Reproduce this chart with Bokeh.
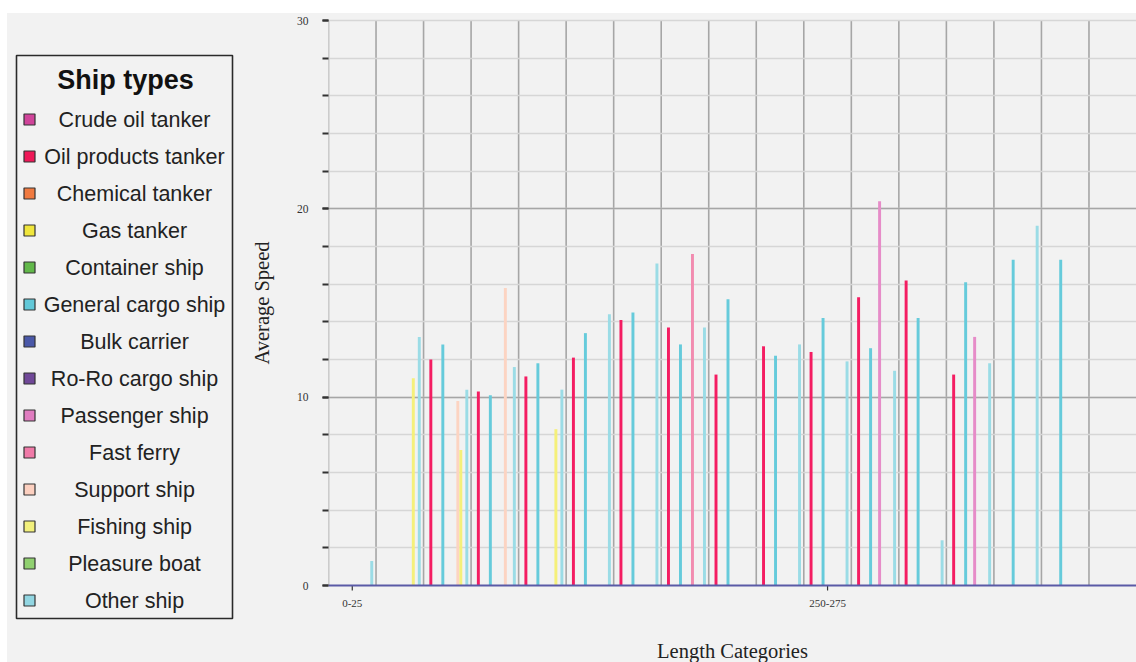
from math import pi
from bokeh.plotting import figure
from bokeh.models import Range1d, FixedTicker, ColumnDataSource, Spacer, Span
from bokeh.layouts import row, column
from bokeh.core.properties import value
from bokeh.embed import file_html
from bokeh.resources import INLINE

# ---------------- data ----------------
categories = ["0-25", "25-50", "50-75", "75-100", "100-125", "125-150", "150-175",
              "175-200", "200-225", "225-250", "250-275", "275-300", "300-325",
              "325-350", "350-375", "375-400", "400-425"]
labelled_categories = ["0-25", "250-275"]

ship_types = ["Crude oil tanker", "Oil products tanker", "Chemical tanker", "Gas tanker",
              "Container ship", "General cargo ship", "Bulk carrier", "Ro-Ro cargo ship",
              "Passenger ship", "Fast ferry", "Support ship", "Fishing ship",
              "Pleasure boat", "Other ship"]
legend_colors = ["#d0449a", "#ee1858", "#f07a40", "#f0e63c", "#62b84a", "#62c8d8", "#4a58a8",
                 "#704898", "#e07cc0", "#f07aa8", "#fcd0c0", "#f2f07c", "#90d070", "#92d6e2"]
bar_colors = ["#d0449a", "#f41d62", "#f07a40", "#f0e63c", "#62b84a", "#66cbdb", "#4a58a8",
              "#704898", "#e68cc8", "#f28cb0", "#fcd4c2", "#f5f07a", "#90d070", "#9bdce6"]

crude_oil_tanker    = [0, 0, 0, 0, 0, 0, 0, 0, 0, 0, 0, 0, 0, 0, 0, 0, 0]
oil_products_tanker = [0, 0, 12.0, 10.3, 11.1, 12.1, 14.1, 13.7, 11.2, 12.7, 12.4, 15.3, 16.2, 11.2, 0, 0, 0]
chemical_tanker     = [0, 0, 0, 0, 0, 0, 0, 0, 0, 0, 0, 0, 0, 0, 0, 0, 0]
gas_tanker          = [0, 0, 0, 0, 0, 0, 0, 0, 0, 0, 0, 0, 0, 0, 0, 0, 0]
container_ship      = [0, 0, 0, 0, 0, 0, 0, 0, 0, 0, 0, 0, 0, 0, 0, 0, 0]
general_cargo_ship  = [0, 0, 12.8, 10.1, 11.8, 13.4, 14.5, 12.8, 15.2, 12.2, 14.2, 12.6, 14.2, 16.1, 17.3, 17.3, 0]
bulk_carrier        = [0, 0, 0, 0, 0, 0, 0, 0, 0, 0, 0, 0, 0, 0, 0, 0, 0]
ro_ro_cargo_ship    = [0, 0, 0, 0, 0, 0, 0, 0, 0, 0, 0, 0, 0, 0, 0, 0, 0]
passenger_ship      = [0, 0, 0, 0, 0, 0, 0, 0, 0, 0, 0, 20.4, 0, 13.2, 0, 0, 0]
fast_ferry          = [0, 0, 0, 0, 0, 0, 0, 17.6, 0, 0, 0, 0, 0, 0, 0, 0, 0]
support_ship        = [0, 0, 9.8, 15.8, 0, 0, 0, 0, 0, 0, 0, 0, 0, 0, 0, 0, 0]
fishing_ship        = [0, 11.0, 7.2, 0, 8.3, 0, 0, 0, 0, 0, 0, 0, 0, 0, 0, 0, 0]
pleasure_boat       = [0, 0, 0, 0, 0, 0, 0, 0, 0, 0, 0, 0, 0, 0, 0, 0, 0]
other_ship          = [1.3, 13.2, 10.4, 11.6, 10.4, 14.4, 17.1, 13.7, 0, 12.8, 11.9, 11.4, 2.4, 11.8, 19.1, 0, 0]

series = [crude_oil_tanker, oil_products_tanker, chemical_tanker, gas_tanker, container_ship,
          general_cargo_ship, bulk_carrier, ro_ro_cargo_ship, passenger_ship, fast_ferry,
          support_ship, fishing_ship, pleasure_boat, other_ship]

y_ticks = [0, 10, 20, 30]
y_minor = [0, 2, 4, 6, 8, 10, 12, 14, 16, 18, 20, 22, 24, 26, 28, 30]

# ---------------- style / layout ----------------
BG = "#f2f2f2"
SLOT = 0.0631      # width of one ship-type slot inside a category (category units)
BAR_W = 0.062
TOP_GAP, LEFT_GAP = 13, 7            # white page strip above / left of the chart
FIG_H = 662 - TOP_GAP
PAD_TOP, PAD_BOTTOM = 7, 77          # px above the 30 line / below the 0 line
Y_MAX = y_ticks[-1]
PPU = (FIG_H - PAD_TOP - PAD_BOTTOM) / Y_MAX   # pixels per speed unit
Y_START = -PAD_BOTTOM / PPU
Y_END = Y_MAX + PAD_TOP / PPU
SIDE_W = 283                          # side panel: legend + y-axis title

# ---------------- main chart ----------------
n_cat = len(categories)
p = figure(width=1136 - LEFT_GAP - SIDE_W, height=FIG_H, output_backend="svg",
           toolbar_location=None,
           x_range=Range1d(0, n_cat), y_range=Range1d(Y_START, Y_END),
           x_axis_location=None,
           min_border_left=38, min_border_right=0, min_border_top=0, min_border_bottom=0)
p.background_fill_color = BG
p.border_fill_color = BG
p.outline_line_color = None
p.xgrid.visible = False

# vertical grid at category boundaries (only over the 0..30 band)
bounds_x = list(range(0, n_cat))
p.segment(x0=bounds_x, x1=bounds_x, y0=[0] * n_cat, y1=[Y_MAX] * n_cat,
          line_color="#a6a6a6", line_width=1.6, level="underlay")

# horizontal grid
p.ygrid.ticker = FixedTicker(ticks=[10, 20], minor_ticks=y_minor[1:])
p.ygrid.grid_line_color = "#a6a6a6"
p.ygrid.grid_line_width = 1.6
p.ygrid.minor_grid_line_color = "#d6d6d6"
p.ygrid.minor_grid_line_width = 1.6
p.ygrid.level = "underlay"
p.ygrid.bounds = (0, Y_MAX)

# bars
n_types = len(ship_types)
for k, (vals, col) in enumerate(zip(series, bar_colors)):
    xs, tops = [], []
    for i, v in enumerate(vals):
        if v > 0:
            xs.append(i + 0.5 + (k - (n_types - 1) / 2) * SLOT)
            tops.append(v)
    if xs:
        src = ColumnDataSource(dict(x=xs, top=tops))
        p.vbar(x="x", top="top", bottom=0, width=BAR_W, source=src,
               fill_color=col, line_color=None)

# x baseline, ticks and labels
p.add_layout(Span(location=0, dimension="width", line_color="#5a5aa6", line_width=2))
xt = [i + 0.5 for i, c in enumerate(categories) if c in labelled_categories]
xl = [c for c in categories if c in labelled_categories]
p.segment(x0=xt, x1=xt, y0=[0] * len(xt), y1=[-5 / PPU] * len(xt),
          line_color="#333333", line_width=1.2)
p.text(x=xt, y=[-14 / PPU] * len(xt), text=xl, text_align="center", text_baseline="top",
       text_font=value("Liberation Serif"), text_font_size="11px", text_color="#333333")
p.text(x=[n_cat / 2], y=[-65 / PPU], text=["Length Categories"], text_align="center",
       text_baseline="middle", text_font=value("Liberation Serif"),
       text_font_size="20.5px", text_color="#222222")

# y axis (ticks + numbers; its title is drawn in the side panel)
p.yaxis.bounds = (0, Y_MAX)
p.yaxis.ticker = FixedTicker(ticks=y_ticks, minor_ticks=y_minor)
p.yaxis.axis_line_color = None
p.yaxis.major_tick_out = 6
p.yaxis.major_tick_in = 0
p.yaxis.minor_tick_out = 6
p.yaxis.minor_tick_in = 0
p.yaxis.major_tick_line_color = "#333333"
p.yaxis.minor_tick_line_color = "#333333"
p.yaxis.major_tick_line_width = 2
p.yaxis.minor_tick_line_width = 2
p.yaxis.major_label_standoff = 14
p.yaxis.major_label_text_font = "Liberation Serif"
p.yaxis.major_label_text_font_size = "11.5px"
p.yaxis.major_label_text_color = "#333333"

# ---------------- side panel (page pixel coordinates, y measured upward from page bottom) ----------------
def up(page_y):
    return 662 - page_y

lg = figure(width=SIDE_W, height=FIG_H, output_backend="svg", toolbar_location=None,
            x_range=Range1d(LEFT_GAP, LEFT_GAP + SIDE_W), y_range=Range1d(0, FIG_H),
            x_axis_type=None, y_axis_type=None,
            min_border_left=0, min_border_right=0, min_border_top=0, min_border_bottom=0)
lg.background_fill_color = BG
lg.border_fill_color = BG
lg.outline_line_color = None
lg.xgrid.visible = False
lg.ygrid.visible = False

lg.quad(left=[16], right=[232], top=[up(55)], bottom=[up(618)], fill_color=BG,
        line_color="#2a2a2a", line_width=1.6)
lg.text(x=[125], y=[up(79)], text=["Ship types"], text_align="center", text_baseline="middle",
        text_font=value("Liberation Sans"), text_font_style="bold",
        text_font_size="27px", text_color="#111111")
item_y = [up(119 + 37 * j) for j in range(len(ship_types))]
lg.rect(x=[29] * len(ship_types), y=item_y, width=11, height=11,
        width_units="screen", height_units="screen",
        fill_color=legend_colors, line_color="#333333", line_width=1.2)
lg.text(x=[134] * len(ship_types), y=item_y, text=ship_types, text_align="center",
        text_baseline="middle", text_font=value("Liberation Sans"),
        text_font_size="21.5px", text_color="#222222")
# y-axis title, centred on the 0..30 band
lg.text(x=[261], y=[up(585 - PPU * Y_MAX / 2)], text=["Average Speed"], angle=pi / 2,
        text_align="center", text_baseline="middle", text_font=value("Liberation Serif"),
        text_font_size="20.5px", text_color="#222222")

inner = row(lg, p, styles={"background-color": BG})
layout = column(Spacer(height=TOP_GAP), row(Spacer(width=LEFT_GAP), inner))
open("out.html", "w").write(file_html(layout, INLINE))
